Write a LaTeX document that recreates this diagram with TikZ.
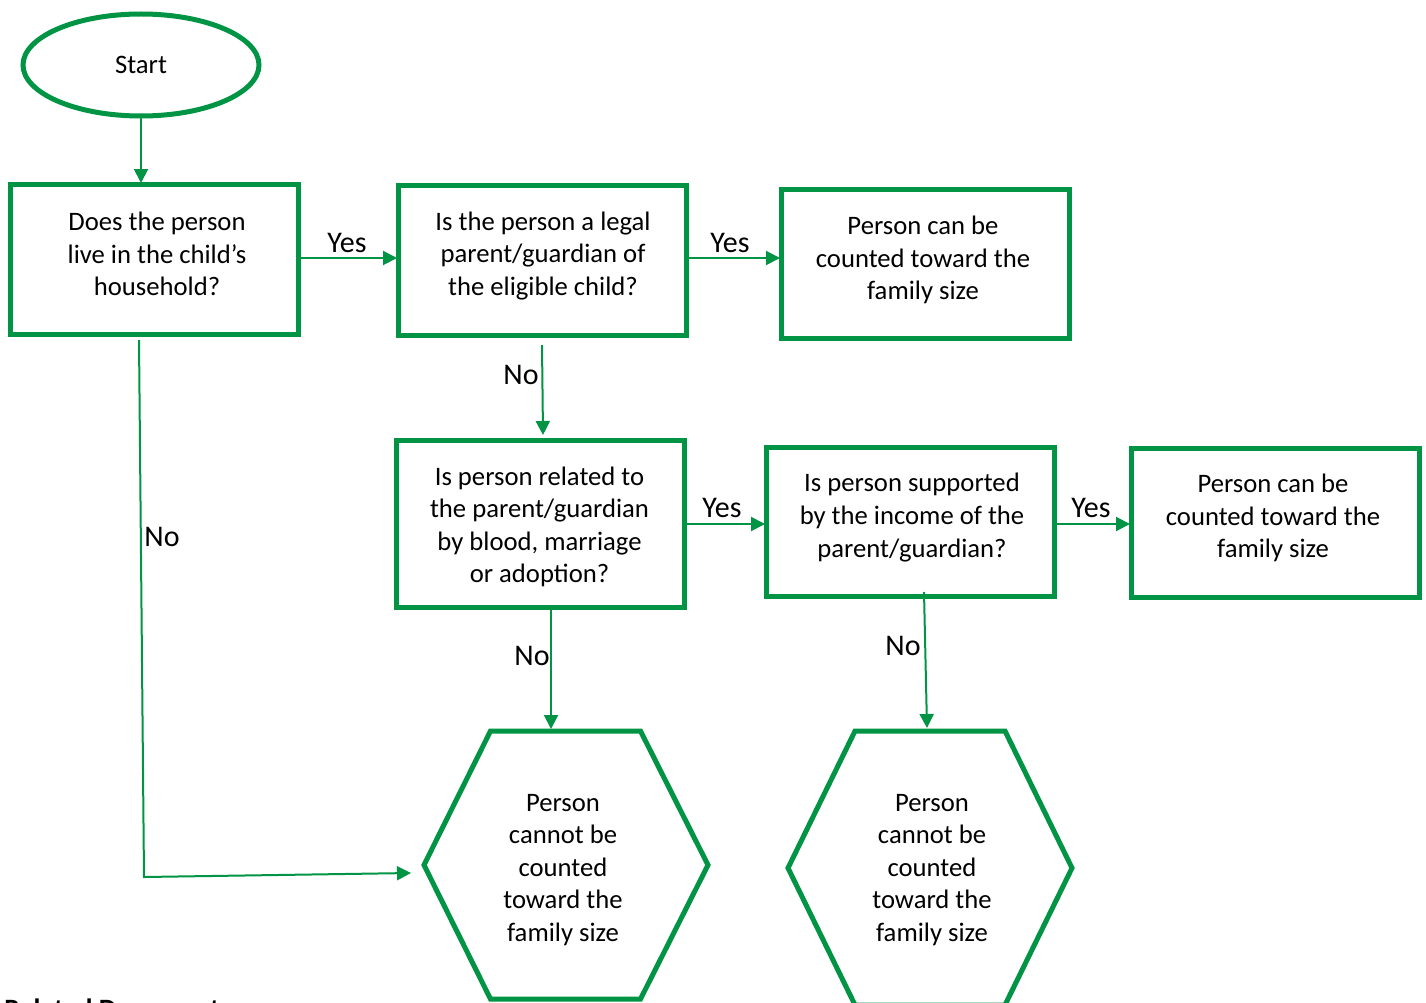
\documentclass[tikz,border=0pt]{standalone}
\usepackage{fontspec}
\setmainfont{Carlito}
\usetikzlibrary{arrows.meta,shapes.geometric}
\definecolor{fg}{RGB}{0,148,68}
\begin{document}
\begin{tikzpicture}[x=0.75pt,y=-0.75pt,
  box/.style={draw=fg,line width=3.75pt,minimum width=216pt,minimum height=112pt,inner sep=0},
  txt/.style={font=\fontsize{20}{24.4}\selectfont,align=center,inner sep=0},
  lbl/.style={font=\fontsize{22.5}{26}\selectfont,inner sep=0},
  conn/.style={draw=fg,line width=1.5pt,-{Triangle[length=10.5pt,width=10.5pt]}},
  hexline/.style={draw=fg,line width=3.75pt,line join=miter},
]
\useasboundingbox (0,0) rectangle (1426,1002);
\begin{scope}
\clip (0,0) rectangle (1426,1002);

% Start
\node[ellipse,draw=fg,line width=3.75pt,minimum width=177pt,minimum height=76.5pt,inner sep=0,
      font=\fontsize{20}{24}\selectfont] (start) at (141,65) {Start};

% Boxes
\node[box] (q1) at (154,259.5) {};
\node[txt] (q1t) at (157,254) {Does the person\\live in the child’s\\household?};

\node[box] (q2) at (542.5,260.5) {};
\node[txt] (q2t) at (543,256) {Is the person a legal\\parent/guardian of\\the eligible child?};

\node[box] (r1) at (925.5,264) {};
\node[txt] (r1t) at (923,260) {Person can be\\counted toward the\\family size};

\node[box,minimum height=125.25pt] (q3) at (540.5,523.5) {};
\node[txt] (q3t) at (539.5,527) {Is person related to\\the parent/guardian\\by blood, marriage\\or adoption?};

\node[box] (q4) at (910,522) {};
\node[txt] (q4t) at (912,517.5) {Is person supported\\by the income of the\\parent/guardian?};

\node[box] (r2) at (1275,523) {};
\node[txt] (r2t) at (1273,518) {Person can be\\counted toward the\\family size};

% Hexagons
\draw[hexline] (490.5,731) -- (640.5,731) -- (708,865) -- (640.5,999) -- (490.5,999) -- (424,865) -- cycle;
\node[txt] (n1) at (563,870) {Person\\cannot be\\counted\\toward the\\family size};
\draw[hexline] (855,731) -- (1005,731) -- (1072,868) -- (1005,1005) -- (855,1005) -- (788,868) -- cycle;
\node[txt] (n2) at (932,870) {Person\\cannot be\\counted\\toward the\\family size};

% Coordinates for connector ends
\coordinate (s0) at (141,116);
\coordinate (s1) at (141,183);
\coordinate (a0) at (300,258);
\coordinate (a1) at (397,258);
\coordinate (b0) at (688,258);
\coordinate (b1) at (780,258);
\coordinate (c0) at (542,345);
\coordinate (c1) at (543,435);
\coordinate (d0) at (139,340);
\coordinate (d1) at (144,877);
\coordinate (d2) at (411,873);
\coordinate (e0) at (686,524);
\coordinate (e1) at (765,524);
\coordinate (f0) at (1056,524);
\coordinate (f1) at (1130,524);
\coordinate (g0) at (551,609);
\coordinate (g1) at (551,729);
\coordinate (h0) at (924,592);
\coordinate (h1) at (927,728);

% Connectors
\draw[conn] (s0) -- (s1);
\draw[conn] (a0) -- (a1);
\draw[conn] (b0) -- (b1);
\draw[conn] (c0) -- (c1);
\draw[conn] (d0) -- (d1) -- (d2);
\draw[conn] (e0) -- (e1);
\draw[conn] (f0) -- (f1);
\draw[conn] (g0) -- (g1);
\draw[conn] (h0) -- (h1);

% Labels
\node[lbl] (ya) at (347,243) {Yes};
\node[lbl] (yb) at (730,243) {Yes};
\node[lbl] (ye) at (722,508) {Yes};
\node[lbl] (yf) at (1091,508) {Yes};
\node[lbl] (nc) at (521,375) {No};
\node[lbl] (nd) at (162,537) {No};
\node[lbl] (ng) at (532,656) {No};
\node[lbl] (nh) at (903,646) {No};

% Cut-off heading
\node[anchor=base west,inner sep=0,font=\fontsize{21}{24}\selectfont\bfseries] (rel) at (4,1018) {Related Documents};
\end{scope}
\end{tikzpicture}
\end{document}
